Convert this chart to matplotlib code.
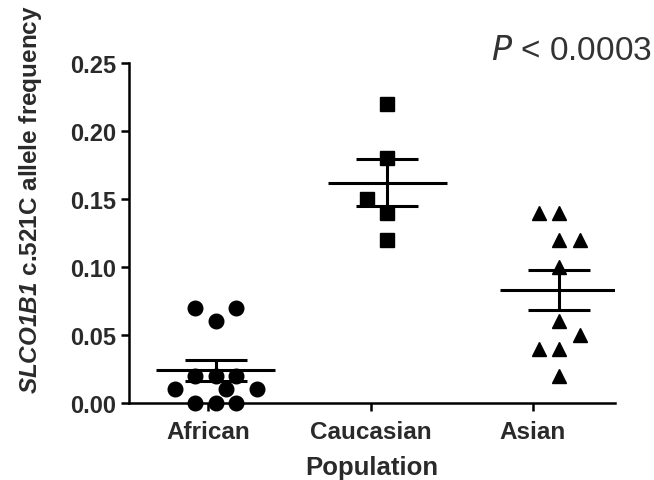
import numpy as np
import matplotlib
matplotlib.use("Agg")
import matplotlib.pyplot as plt

plt.rcParams["font.family"] = ["Liberation Sans", "DejaVu Sans"]
plt.rcParams["mathtext.fontset"] = "custom"
plt.rcParams["mathtext.rm"] = "Liberation Sans:bold"
plt.rcParams["mathtext.bfit"] = "Liberation Sans:italic:bold"

# data
groups = ["African", "Caucasian", "Asian"]
african = [0.07, 0.07, 0.06, 0.02, 0.02, 0.02, 0.01, 0.01, 0.01, 0.00, 0.00, 0.00]
caucasian = [0.22, 0.18, 0.15, 0.14, 0.12]
asian = [0.14, 0.14, 0.12, 0.12, 0.10, 0.06, 0.05, 0.04, 0.04, 0.02]

# horizontal spread of overlapping points (in marker slots)
african_slot = [-1, 1, 0, -1, 0, 1, -2, 0.5, 2, -1, 0, 1]
caucasian_slot = [0, 0, -1, 0, 0]
asian_slot = [-1, 0, 0, 1, 0, 0, 1, -1, 0, 0]

values = [african, caucasian, asian]
slots = [african_slot, caucasian_slot, asian_slot]
markers = ["o", "s", "^"]
msizes = [10.5, 10, 10.5]
tick_pos = [-0.045, 0.905, 1.845]
step = 0.12

fig = plt.figure(figsize=(6.54, 4.81), dpi=100)
ax = fig.add_axes([129 / 654, 77 / 481, 486 / 654, 340 / 481])

for i, (vals, sl) in enumerate(zip(values, slots)):
    v = np.array(vals)
    x = i + np.array(sl) * step
    ax.plot(x, v, linestyle="none", marker=markers[i], ms=msizes[i],
            color="black", clip_on=False, zorder=3)
    m = v.mean()
    sem = v.std(ddof=1) / np.sqrt(len(v))
    ax.hlines(m, i - 0.345, i + 0.345, color="black", lw=2.2, zorder=4)
    ax.errorbar(i, m, yerr=sem, fmt="none", ecolor="black", elinewidth=2.2,
                capsize=22, capthick=2.2, zorder=4)

ax.set_xlim(-0.505, 2.325)
ax.set_ylim(0, 0.25)
ax.set_yticks([0, 0.05, 0.10, 0.15, 0.20, 0.25])
ax.set_yticklabels(["0.00", "0.05", "0.10", "0.15", "0.20", "0.25"])
ax.set_xticks(tick_pos)
ax.set_xticklabels(groups)

for s in ["top", "right"]:
    ax.spines[s].set_visible(False)
for s in ["left", "bottom"]:
    ax.spines[s].set_linewidth(1.8)
ax.tick_params(width=1.8, length=6, color="black")
ax.tick_params(axis="y", pad=3)
ax.tick_params(axis="x", pad=6)
for lab in ax.get_yticklabels():
    lab.set_fontsize(17)
    lab.set_fontweight("bold")
    lab.set_color("#2a2a2a")
for lab in ax.get_xticklabels():
    lab.set_fontsize(17.5)
    lab.set_fontweight("bold")
    lab.set_color("#2a2a2a")

ax.set_xlabel("Population", fontsize=18.5, fontweight="bold", color="#2a2a2a", labelpad=9)
fig.text(31 / 654, 1 - 200 / 481, r"$\mathbfit{SLCO1B1}$ c.521C allele frequency",
         rotation=90, ha="center", va="center", fontsize=17.5, fontweight="bold",
         color="#2a2a2a")

fig.text(652 / 654, 1 - 52 / 481, r"$\it{P}$ < 0.0003", ha="right", va="center",
         fontsize=24, color="#333333")

fig.savefig("out.png", dpi=100)
